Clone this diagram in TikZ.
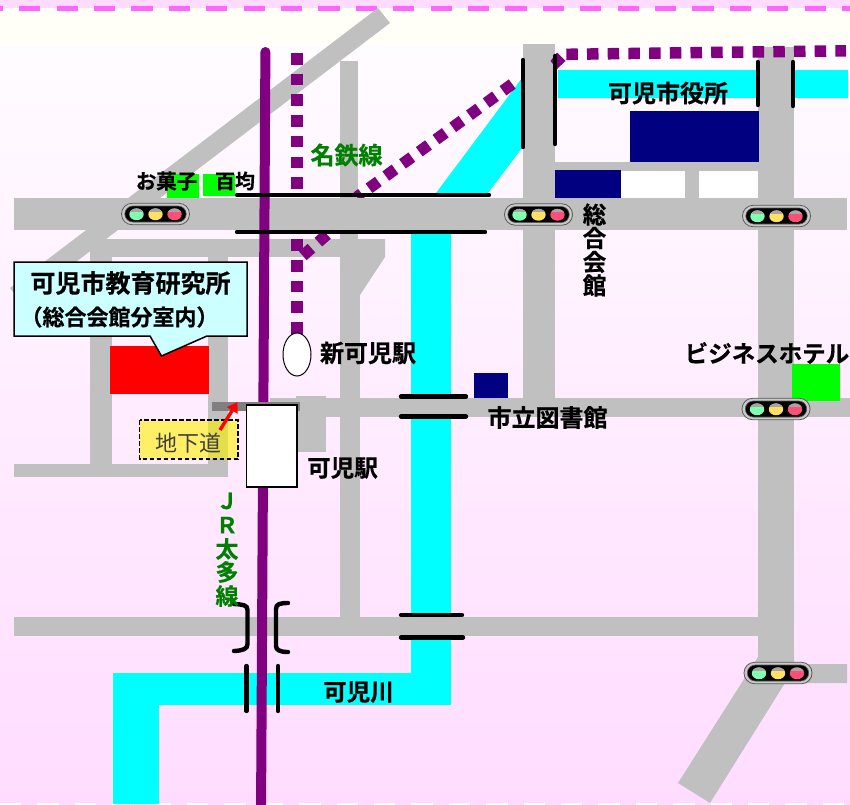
\documentclass[tikz,border=0pt]{standalone}
\usepackage{fontspec}
\setmainfont{Noto Sans CJK JP}[BoldFont={Noto Sans CJK JP Bold},BoldFeatures={FakeBold=0.6}]
\usetikzlibrary{arrows.meta,shadings,shapes.geometric}
\definecolor{roadc}{HTML}{C0C0C0}
\definecolor{riverc}{HTML}{00FFFF}
\definecolor{railc}{HTML}{800080}
\definecolor{navyc}{HTML}{000080}
\definecolor{limec}{HTML}{00FF00}
\definecolor{greent}{HTML}{008000}
\definecolor{pinkbg}{HTML}{FFDCFF}
\definecolor{topbg}{HTML}{FFFCFF}
\definecolor{ivoryc}{HTML}{FFFFF8}
\definecolor{dashc}{HTML}{FF66FF}
\definecolor{calloutc}{HTML}{CCFFFF}
\tikzset{
  x=1pt,y=-1pt,
  road/.style={fill=roadc,draw=none},
  river/.style={fill=riverc,draw=none},
  bridge/.style={draw=black,line width=4.4pt,line cap=round},
  dotrail/.style={draw=railc,line width=11.5pt,dash pattern=on 11.5pt off 9.2pt},
  lbl/.style={font=\bfseries\fontsize{#1}{#1}\selectfont,text=black,inner sep=0pt},
  glbl/.style={font=\bfseries\fontsize{#1}{#1}\selectfont,text=greent,inner sep=0pt},
}
\newcommand{\sigset}[2]{%
  \begin{scope}[shift={(#1,#2)}]
    \fill[roadc!85!white,draw=gray!70!black,line width=.8pt,rounded corners=10.5pt] (-34,-10.7) rectangle (34,10.7);
    \fill[black,draw=gray!70!black,line width=.6pt,rounded corners=8pt] (-30.7,-8) rectangle (30.7,8);
    \foreach \xx/\cc in {-19/80FFB0,0/FFE060,19/FF4F78}{
      \definecolor{lampc}{HTML}{\cc}
      \fill[lampc] (\xx,0.3) ellipse[x radius=7.2pt,y radius=5.9pt];
      \begin{scope}
        \clip (\xx-8,-8) rectangle (\xx+8,-3);
        \fill[gray!70] (\xx,0.3) ellipse[x radius=7.2pt,y radius=5.9pt];
      \end{scope}
    }
  \end{scope}}
\begin{document}
\begin{tikzpicture}
\useasboundingbox (0,0) rectangle (850,804);
% background
\fill[white] (0,0) rectangle (850,804);
\shade[top color=topbg,bottom color=pinkbg] (0,45) rectangle (850,804);
\fill[ivoryc] (0,8) rectangle (850,45);
\fill[pinkbg] (0,0) rectangle (850,8);
\draw[dashc,line width=5.4pt,dash pattern=on 21.3pt off 16.1pt,dash phase=18.3pt] (0,8.7) -- (850,8.7);
\draw[white,line width=1.5pt,dash pattern=on 21.3pt off 16.1pt] (0,804) -- (850,804);
% white blocks
\fill[white] (621,171) rectangle (758,198);
% rivers
\fill[river] (558,70) rectangle (848,98);
\fill[river] (436,193) -- (522,78) -- (522,148) -- (488,193) -- cycle;
\fill[river] (411,225) rectangle (451,705);
\fill[river] (113,673) rectangle (451,705);
\fill[river] (113,673) rectangle (159,804);
% roads under the rails
\fill[road] (378,8) -- (390,23) -- (22,303) -- (10,288) -- cycle;
\fill[road] (340,61) rectangle (358,239);
\fill[road] (340,239) rectangle (360,620);
\fill[road] (90,239) rectangle (385,257);
\fill[road] (369,239) -- (385,239) -- (385,257) -- (360,295) -- (360,255) -- cycle;
\fill[road] (90,239) rectangle (112,477);
\fill[road] (208,239) rectangle (228,477);
\fill[road] (14,464) rectangle (228,477);
\fill[road] (14,617) rectangle (770,636);
\fill[road] (270,398) rectangle (850,417);
\fill[road] (296,396) rectangle (326,452);
\fill[road] (523,44) rectangle (555,400);
\fill[road] (758,47) rectangle (794,670);
\fill[road] (555,162) rectangle (760,171);
\fill[road] (685,162) rectangle (699,200);
\fill[road] (758,657) -- (794,657) -- (794,664) -- (847,664) -- (847,683) -- (785,683) -- (710,803) -- (678,783) -- cycle;
% purple dotted rails
\draw[dotrail] (297,53) -- (297,335);
\draw[dotrail] (512.2,84) -- (507.6,87.4) -- (357,197);
\draw[dotrail] (327,234.5) -- (302,256.5);
\draw[dotrail] (566.3,54.3) -- (846,50.8);
% main road on top of rails
\fill[road] (14,198) rectangle (847,230);
% rail
\draw[railc,line width=10pt,line cap=round] (265.4,52) -- (261,815);
\fill[railc] (557,52.5) -- (565.5,61) -- (557,69) -- (550.5,61) -- cycle;
% buildings
\fill[navyc] (630,111) rectangle (759,162);
\fill[navyc] (555,170) rectangle (621,198);
\fill[navyc] (474,373) rectangle (508,398);
\fill[limec] (167,174) rectangle (199,198);
\fill[limec] (203,174) rectangle (235,196);
\fill[limec] (792,364) rectangle (840,401);
\fill[red] (110,346) rectangle (209,394);
% underpass
\fill[gray] (212,402) rectangle (300,411);
% stations
\node[draw=black,fill=white,line width=1pt,ellipse,minimum width=28pt,minimum height=43pt,inner sep=0pt] (shinkani) at (297,354.5) {};
\node[draw=black,fill=white,line width=1.2pt,rectangle,minimum width=50.5pt,minimum height=82pt,inner sep=0pt] (kani) at (271.7,446) {};
% bridges
\draw[bridge] (237,195) -- (489,195);
\draw[bridge] (237,232) -- (485,232);
\draw[bridge] (523,60) -- (523,147);
\draw[bridge] (555,56) -- (555,144);
\draw[bridge] (758,62) -- (758,105);
\draw[bridge] (793,62) -- (793,106);
\draw[bridge] (401,396.5) -- (466,396.5);
\draw[bridge] (401,416.5) -- (466,416.5);
\draw[bridge] (401,615) -- (462,615);
\draw[bridge] (401,637.5) -- (463,637.5);
\draw[bridge] (246.5,666) -- (246.5,711);
\draw[bridge] (278,666) -- (278,711);
\draw[bridge] (234,604) .. controls (243,604.5) and (247.5,605) .. (247.5,610) -- (247.5,644) .. controls (247.5,649) and (243,650.5) .. (234,651);
\draw[bridge] (288,603) .. controls (280,603) and (276,604) .. (276,609) -- (276,646) .. controls (276,650) and (280,652) .. (288,652);
% signals
\sigset{155.5}{214}
\sigset{538.5}{214.5}
\sigset{776.5}{216}
\sigset{776}{409}
\sigset{778}{673}
% callout
\draw[fill=calloutc,draw=black,line width=1.5pt] (14,262) -- (247,262) -- (247,336) -- (207,336) -- (161.5,356) -- (150,336) -- (14,336) -- cycle;
\node[lbl=25] (t1) at (130.5,283) {可児市教育研究所};
\node[lbl=22] (t2) at (119.5,317) {（総合会館分室内）};
% underpass label
\fill[yellow,fill opacity=.6] (139.5,420) rectangle (238,459);
\draw[black,line width=1.7pt,dash pattern=on 4.5pt off 2.5pt] (139.5,420) rectangle (238,459);
\node[inner sep=0pt,font=\fontsize{22}{22}\selectfont,text=black!75] (t3) at (188,443) {地下道};
\draw[red,line width=3.4pt,-{Triangle[length=10pt,width=12pt]}] (220,430) -- (237.5,402);
% labels
\node[lbl=20.5] (t4) at (166.5,181) {お菓子};
\node[lbl=20] (t5) at (235,181) {百均};
\node[glbl=24] (t6) at (346.5,155) {名鉄線};
\node[lbl=24] (t7) at (668,93) {可児市役所};
\node[lbl=23.5] (t8) at (594.5,214.5) {総};
\node[lbl=23.5] (t9) at (594.5,238) {合};
\node[lbl=23.5] (t10) at (594.5,262) {会};
\node[lbl=23.5] (t11) at (594.5,285.5) {館};
\node[lbl=24] (t12) at (368,353) {新可児駅};
\node[lbl=23.5] (t13) at (342.5,468) {可児駅};
\node[lbl=24] (t14) at (547.5,417.5) {市立図書館};
\node[lbl=23.5,anchor=west] (t15) at (684.5,353) {ビジネスホテル};
\node[lbl=23.5] (t16) at (358.5,692) {可児川};
\node[glbl=22] (t17) at (227,501) {Ｊ};
\node[glbl=22] (t18) at (227,525) {Ｒ};
\node[glbl=23] (t19) at (227,549) {太};
\node[glbl=23] (t20) at (227,572) {多};
\node[glbl=23] (t21) at (227,596) {線};
\end{tikzpicture}
\end{document}
